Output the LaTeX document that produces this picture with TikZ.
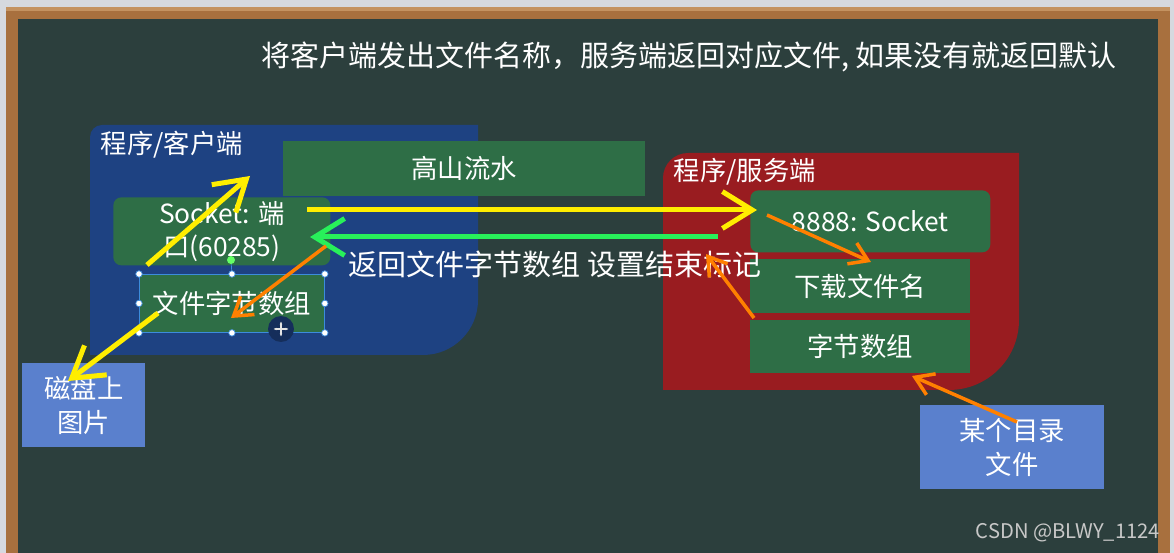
\documentclass[tikz,border=0pt]{standalone}
\usepackage{fontspec}
\setmainfont{Noto Sans CJK SC}
\usetikzlibrary{arrows.meta}

\definecolor{outergray}{RGB}{214,217,223}
\definecolor{woodframe}{RGB}{168,112,62}
\definecolor{woodlight}{RGB}{196,146,96}
\definecolor{board}{RGB}{44,63,61}
\definecolor{clientbg}{RGB}{30,66,130}
\definecolor{serverbg}{RGB}{153,28,32}
\definecolor{boxgreen}{RGB}{46,110,70}
\definecolor{boxblue}{RGB}{90,128,205}
\definecolor{arrowyellow}{RGB}{255,238,0}
\definecolor{arrowgreen}{RGB}{40,240,90}
\definecolor{arroworange}{RGB}{255,128,0}
\definecolor{selblue}{RGB}{60,140,220}
\definecolor{markgray}{RGB}{200,200,200}

\tikzset{
  lbl/.style={text=white, inner sep=0pt, align=center, font=\fontsize{15pt}{19pt}\selectfont},
  gbox/.style={lbl, fill=boxgreen, anchor=north west},
  rgbox/.style={gbox, rounded corners=0.16cm},
  pbox/.style={lbl, fill=boxblue, anchor=north west},
  handle/.style={circle, draw=selblue, fill=white, line width=0.4pt, inner sep=0pt, minimum size=0.13cm},
  yarr/.style={draw=arrowyellow, line width=0.1cm, -{Straight Barb[length=17pt,width=21pt]}},
  garr/.style={draw=arrowgreen, line width=0.1cm, -{Straight Barb[length=17pt,width=21pt]}},
  oarr/.style={draw=arroworange, line width=0.07cm, -{Straight Barb[length=10pt,width=13pt]}}
}

\begin{document}
\begin{tikzpicture}[x=0.02cm,y=-0.02cm]
	\useasboundingbox (0,0) rectangle (1174,553);
	% board and frame
	\fill[outergray] (0,0) rectangle (1174,553);
	\fill[woodframe] (6,7) rectangle (1170,553);
	\fill[woodlight] (6,7) rectangle (1170,11);
	\fill[board] (18,19) rectangle (1158,553);
	% client and server areas
	\fill[clientbg] (90,355) -- (90,137) arc[start angle=180,end angle=90,radius=0.24cm]
		-- (478,125) -- (478,300) arc[start angle=0,end angle=-90,radius=1.1cm] -- cycle;
	\fill[serverbg] (663,390) -- (663,178) arc[start angle=180,end angle=90,radius=0.5cm]
		-- (1019,153) -- (1019,320) arc[start angle=0,end angle=-90,radius=1.4cm] -- cycle;
	\node[lbl, font=\fontsize{16.5pt}{20pt}\selectfont] (title) at (689,57) {将客户端发出文件名称，服务端返回对应文件, 如果没有就返回默认};
	\node[lbl] (client) at (172,145) {程序/客户端};
	\node[lbl] (server) at (745,172) {程序/服务端};
	% client boxes
	\node[gbox, minimum width=7.24cm, minimum height=1.1cm] (song) at (283,141) {高山流水};
	\node[rgbox, minimum width=4.34cm, minimum height=1.36cm] (sock) at (113,197) {Socket: 端\\口(60285)};
	\node[gbox, draw=selblue, line width=0.5pt, minimum width=3.7cm, minimum height=1.16cm] (bytes) at (139,274) {文件字节数组};
	\draw[selblue, line width=0.4pt] (bytes.north) -- (231,260);
	\fill[green!60!white] (231,260) circle (0.08cm);
	\foreach \a in {north west,north,north east,west,east,south west,south,south east}
		\node[handle] at (bytes.\a) {};
	\fill[black!30!clientbg] (281,329) circle (0.26cm);
	\draw[white!80!gray, line width=0.6pt, {Latex[length=2pt]}-{Latex[length=2pt]}] (273,329) -- (289,329);
	\draw[white!80!gray, line width=0.6pt, {Latex[length=2pt]}-{Latex[length=2pt]}] (281,321) -- (281,337);
	% server boxes
	\node[rgbox, minimum width=4.8cm, minimum height=1.24cm] (port) at (750,190) {8888: Socket};
	\node[gbox, minimum width=4.4cm, minimum height=1.08cm] (fname) at (750,259) {下载文件名};
	\node[gbox, minimum width=4.4cm, minimum height=1.06cm] (sbytes) at (750,320) {字节数组};
	% files
	\node[pbox, minimum width=2.46cm, minimum height=1.68cm] (disk) at (22,363) {磁盘上\\图片};
	\node[pbox, minimum width=3.68cm, minimum height=1.68cm] (dir) at (920,405) {某个目录\\文件};
	\node[lbl, font=\fontsize{16.5pt}{20pt}\selectfont] (back) at (555,264) {返回文件字节数组 设置结束标记};
	\node[lbl, text=markgray, font=\fontsize{11.5pt}{14pt}\selectfont] (mark) at (1068,533) {CSDN @BLWY\_1124};
	% arrow ends
	\coordinate (ya) at (307,210);
	\coordinate (yb) at (757,210);
	\coordinate (ga) at (718,237);
	\coordinate (gb) at (310,237);
	\coordinate (yc) at (147,265);
	\coordinate (yd) at (250,176);
	\coordinate (ye) at (158,313);
	\coordinate (yf) at (68,381);
	\coordinate (oa) at (326,246);
	\coordinate (ob) at (231,318);
	\coordinate (oc) at (767,215);
	\coordinate (od) at (871,262);
	\coordinate (oe) at (754,318);
	\coordinate (of) at (706,254);
	\coordinate (og) at (1017,422);
	\coordinate (oh) at (912,376);
	% arrows
	\draw[yarr] (ya) -- (yb);
	\draw[garr] (ga) -- (gb);
	\draw[yarr] (yc) -- (yd);
	\draw[yarr] (ye) -- (yf);
	\draw[oarr] (oa) -- (ob);
	\draw[oarr] (oc) -- (od);
	\draw[oarr] (oe) -- (of);
	\draw[oarr] (og) -- (oh);
\end{tikzpicture}
\end{document}
